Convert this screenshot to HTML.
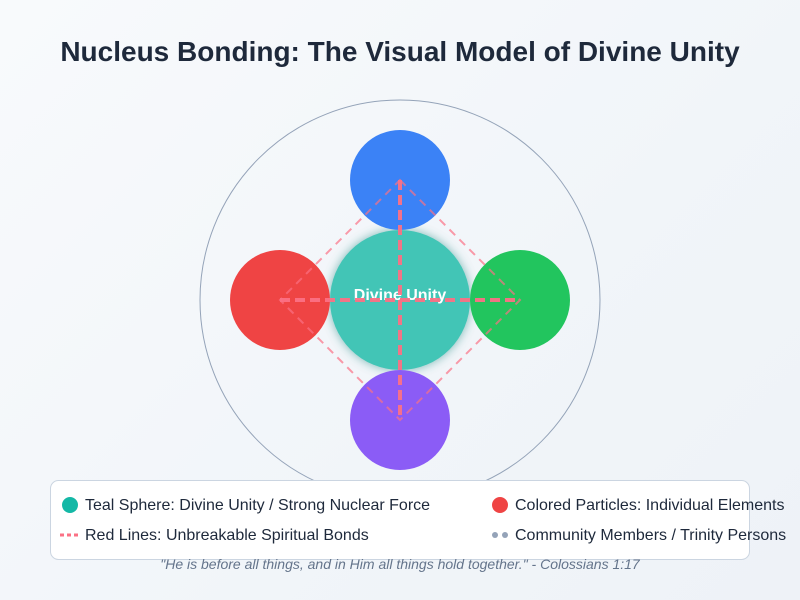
<!DOCTYPE html>
<html>
<head>
<meta charset="utf-8">
<style>
html,body{margin:0;padding:0;}
body{width:800px;height:600px;overflow:hidden;background:linear-gradient(135deg,#f8fafc 0%,#f1f5f9 60%,#eef2f7 100%);font-family:"Liberation Sans",Arial,sans-serif;}
svg{display:block;}
</style>
</head>
<body>
<svg width="800" height="600" viewBox="0 0 800 600" xmlns="http://www.w3.org/2000/svg">
  <defs>
    <filter id="glow" x="-50%" y="-50%" width="200%" height="200%">
      <feGaussianBlur in="SourceAlpha" stdDeviation="5" result="b"/>
      <feFlood flood-color="#0f766e" flood-opacity="0.5"/>
      <feComposite in2="b" operator="in" result="s"/>
      <feMerge><feMergeNode in="s"/><feMergeNode in="SourceGraphic"/></feMerge>
    </filter>
  </defs>
  <text x="400" y="61" text-anchor="middle" font-family="Liberation Sans, Arial, sans-serif" font-size="28" font-weight="bold" fill="#1e293b">Nucleus Bonding: The Visual Model of Divine Unity</text>

  <circle cx="400" cy="300" r="200" fill="none" stroke="#94a3b8" stroke-width="1"/>

  <circle cx="400" cy="300" r="70" fill="#42c5b6" filter="url(#glow)"/>
  <circle cx="400" cy="180" r="50" fill="#3b82f6"/>
  <circle cx="280" cy="300" r="50" fill="#ef4444"/>
  <circle cx="520" cy="300" r="50" fill="#22c55e"/>
  <circle cx="400" cy="420" r="50" fill="#8b5cf6"/>

  <text x="400" y="300" text-anchor="middle" font-family="Liberation Sans, Arial, sans-serif" font-size="16" font-weight="bold" fill="#ffffff">Divine Unity</text>

  <polygon points="400,180 520,300 400,420 280,300" fill="none" stroke="#fb7185" stroke-opacity="0.7" stroke-width="2" stroke-dasharray="8,6"/>
  <line x1="280" y1="300" x2="520" y2="300" stroke="#fb7185" stroke-opacity="0.95" stroke-width="4" stroke-dasharray="10,5"/>
  <line x1="400" y1="180" x2="400" y2="420" stroke="#fb7185" stroke-opacity="0.95" stroke-width="4" stroke-dasharray="10,5"/>

  <rect x="50.5" y="480.5" width="699" height="79" rx="8" ry="8" fill="#ffffff" stroke="#cbd5e1" stroke-width="1"/>

  <circle cx="70" cy="505" r="8" fill="#14b8a6"/>
  <text x="85" y="510" font-family="Liberation Sans, Arial, sans-serif" font-size="16" fill="#1e293b">Teal Sphere: Divine Unity / Strong Nuclear Force</text>

  <line x1="60" y1="535" x2="80" y2="535" stroke="#fb7185" stroke-width="3" stroke-dasharray="4,3"/>
  <text x="85" y="540" font-family="Liberation Sans, Arial, sans-serif" font-size="16" fill="#1e293b">Red Lines: Unbreakable Spiritual Bonds</text>

  <circle cx="500" cy="505" r="8" fill="#ef4444"/>
  <text x="515" y="510" font-family="Liberation Sans, Arial, sans-serif" font-size="16" fill="#1e293b">Colored Particles: Individual Elements</text>

  <circle cx="495" cy="535" r="3" fill="#94a3b8"/>
  <circle cx="505" cy="535" r="3" fill="#94a3b8"/>
  <text x="515" y="540" font-family="Liberation Sans, Arial, sans-serif" font-size="16" fill="#1e293b">Community Members / Trinity Persons</text>

  <text x="400" y="569" text-anchor="middle" font-family="Liberation Sans, Arial, sans-serif" font-size="14" font-style="italic" fill="#64748b">"He is before all things, and in Him all things hold together." - Colossians 1:17</text>
</svg>
</body>
</html>
